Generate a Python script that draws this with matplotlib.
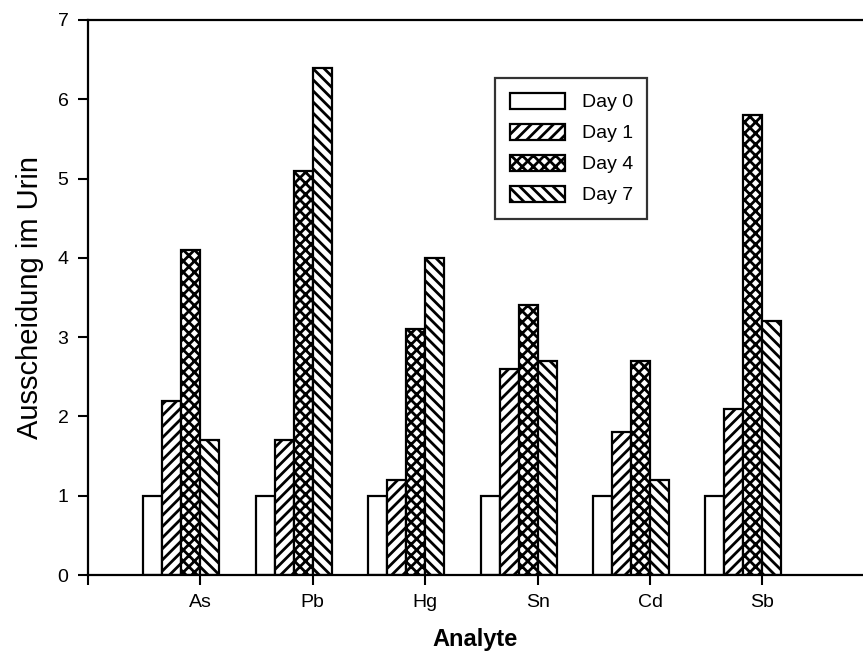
import matplotlib
matplotlib.use("Agg")
import matplotlib.pyplot as plt
import numpy as np

plt.rcParams['font.family'] = ['Liberation Sans', 'DejaVu Sans']
plt.rcParams['hatch.linewidth'] = 2.0

analytes = ["As", "Pb", "Hg", "Sn", "Cd", "Sb"]
series_names = ["Day 0", "Day 1", "Day 4", "Day 7"]
day0 = [1.0, 1.0, 1.0, 1.0, 1.0, 1.0]
day1 = [2.2, 1.7, 1.2, 2.6, 1.8, 2.1]
day4 = [4.1, 5.1, 3.1, 3.4, 2.7, 5.8]
day7 = [1.7, 6.4, 4.0, 2.7, 1.2, 3.2]
series = [day0, day1, day4, day7]
hatches = [None, "///", "xxx", "\\\\\\"]

W, H = 863, 660
fig = plt.figure(figsize=(W / 100, H / 100), dpi=100)
ax = fig.add_axes([88 / W, (H - 575) / H, (W - 88) / W, (575 - 20) / H])

x = np.arange(len(analytes))
bw = 0.169
for k, (vals, hat, name) in enumerate(zip(series, hatches, series_names)):
    ax.bar(x + (k - 2.5) * bw, vals, width=bw, color="white",
           edgecolor="black", linewidth=1.6, hatch=hat, label=name)

ax.set_xlim(-1, (W - 88) / 112.4 - 1)
ax.set_ylim(0, 7)
ax.set_yticks(range(0, 8))
ax.set_xticks([-1] + list(x))
ax.set_xticklabels([""] + analytes)
ax.tick_params(axis="both", direction="out", length=7, width=1.5, labelsize=14)
ax.tick_params(axis="y", pad=7)
ax.tick_params(axis="x", pad=7)
for s in ["left", "bottom", "top"]:
    ax.spines[s].set_linewidth(1.6)
ax.spines["right"].set_visible(False)

ax.set_ylabel("Ausscheidung im Urin", fontsize=21, labelpad=10)
ax.set_xlabel("Analyte", fontsize=17, fontweight="bold", labelpad=12)

leg = ax.legend(loc="upper left", bbox_to_anchor=((495 - 88) / (W - 88), (575 - 78) / 555),
                fontsize=14, frameon=True, fancybox=False, edgecolor="black",
                handlelength=2.85, handleheight=0.9, labelspacing=0.63,
                borderpad=0.75, handletextpad=0.85, borderaxespad=0)
leg.get_frame().set_linewidth(1.6)

fig.savefig("out.png", dpi=100)
